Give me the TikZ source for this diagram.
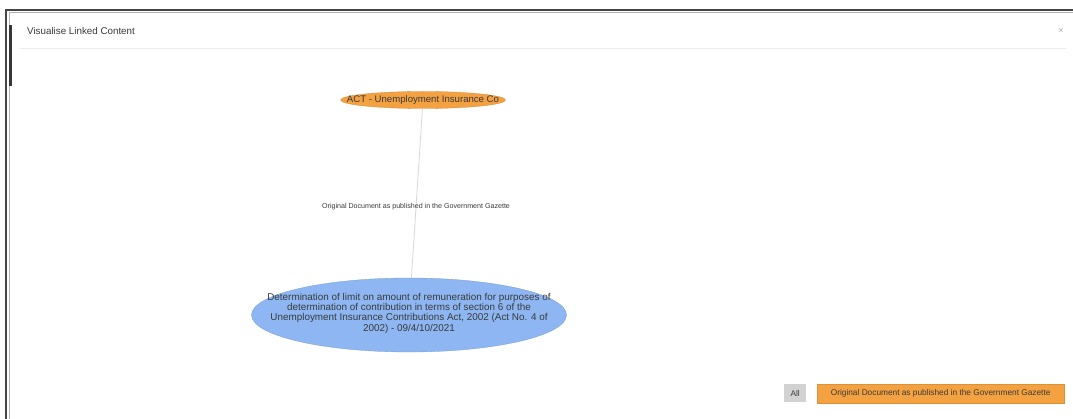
\documentclass[tikz,border=0pt]{standalone}
\usepackage{fontspec}
\setmainfont{Liberation Sans}
\usetikzlibrary{shapes.geometric}
\definecolor{frameDark}{HTML}{454545}
\definecolor{nodeOrange}{HTML}{F4A142}
\definecolor{nodeBlue}{HTML}{8DB6F2}
\definecolor{txtGray}{HTML}{3A3A3A}
\definecolor{edgeGray}{HTML}{DCD6D6}
\definecolor{btnGray}{HTML}{D2D2D2}
\tikzset{
  orangenode/.style={ellipse, fill=nodeOrange, draw=nodeOrange!85!black, line width=0.3pt, inner sep=0pt, minimum width=165pt, minimum height=17pt},
  bluenode/.style={ellipse, fill=nodeBlue, draw=nodeBlue!85!black, line width=0.3pt, inner sep=0pt, minimum width=315pt, minimum height=74pt},
  nodetext/.style={inner sep=0pt, text=txtGray, align=center},
  linkedge/.style={draw=edgeGray, line width=0.8pt},
  edgelabel/.style={text=txtGray, font=\fontsize{7.1}{8}\selectfont, inner sep=1pt},
  btn/.style={inner sep=0pt, anchor=north west},
  btntext/.style={inner sep=0pt, text=txtGray, font=\fontsize{8.3}{9}\selectfont},
}
\begin{document}
\begin{tikzpicture}[x=1pt,y=-1pt]
\useasboundingbox (0,0) rectangle (1073,419);
\fill[white] (0,0) rectangle (1073,419);
% window frame
\draw[frameDark, line width=2pt] (6,419) -- (6,10) -- (1073,10);
\draw[gray!60, line width=0.8pt] (9,419) -- (9,12) -- (1073,12);
\fill[frameDark!80!black] (8.5,25) rectangle (11.5,86);
% header
\node[anchor=west, inner sep=0pt, text=txtGray, font=\fontsize{9.8}{11}\selectfont] (title) at (27,31) {Visualise Linked Content};
\node[inner sep=0pt, text=gray!70, font=\fontsize{9}{10}\selectfont] (closex) at (1061,31) {×};
\draw[gray!15, line width=0.8pt] (20,48) -- (1066,48);
% graph
\node[orangenode] (act) at (423,100) {};
\node[nodetext, font=\fontsize{9.6}{10}\selectfont] (acttext) at (act.center) {ACT - Unemployment Insurance Co};
\node[bluenode] (det) at (409,315) {};
\node[nodetext, font=\fontsize{9.9}{10.3}\selectfont] (dettext) at ([yshift=2pt]det.center) {Determination of limit on amount of remuneration for purposes of\\determination of contribution in terms of section 6 of the\\Unemployment Insurance Contributions Act, 2002 (Act No. 4 of\\2002) - 09/4/10/2021};
\draw[linkedge] (act) -- node[edgelabel, pos=0.58] (elabel) {Original Document as published in the Government Gazette} (det);
% buttons
\node[btn, fill=btnGray, minimum width=22pt, minimum height=18pt] (allbtn) at (784,384) {};
\node[btntext] (alltxt) at (allbtn.center) {All};
\node[btn, fill=nodeOrange, draw=nodeOrange!90!black, line width=0.3pt, minimum width=247pt, minimum height=19pt] (origbtn) at (817,384) {};
\node[btntext] (origtxt) at (origbtn.center) {Original Document as published in the Government Gazette};
\end{tikzpicture}
\end{document}
